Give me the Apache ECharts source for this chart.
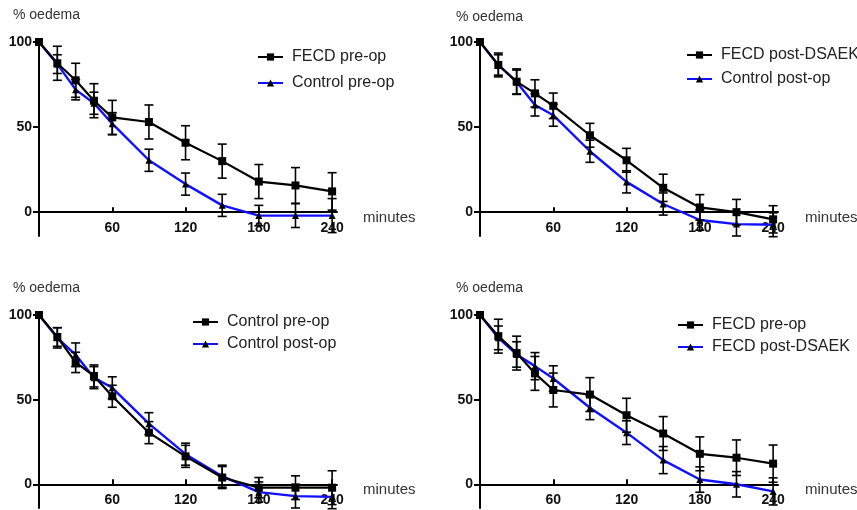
<!DOCTYPE html>
<html><head><meta charset="utf-8">
<script src="https://cdn.jsdelivr.net/npm/echarts@6/dist/echarts.min.js"></script>
<style>html,body{margin:0;padding:0;background:#fff}#c{width:857px;height:510px}</style>
</head><body><div id="c"></div>
<script>
// ---- data ----
const minutes = [0, 15, 30, 45, 60, 90, 120, 150, 180, 210, 240];
const xTickValues = [60, 120, 180, 240];
const yTickValues = [0, 50, 100];
const fecdPre        = [100, 87.5, 77.5, 65.5, 55.7, 53, 40.8, 30, 18, 15.7, 12.2];
const fecdPreErr     = [0, 10, 10, 10, 10, 10, 10, 10, 10, 10.5, 11];
const controlPre     = [100, 87, 72, 64, 52, 30.5, 16.5, 4, -2, -2, -2];
const controlPreErr  = [0, 5.5, 6, 6.5, 6.5, 6.5, 6.5, 6.5, 6, 7, 10];
const fecdPost       = [100, 86.5, 76.7, 69.8, 62.5, 45.2, 30.5, 14.3, 2.8, 0, -4.2];
const fecdPostErr    = [0, 7, 7.5, 8, 7.5, 7, 7, 8, 7.5, 7.5, 8];
const controlPost    = [100, 86.5, 76.5, 63, 57, 35.8, 17.8, 4.8, -4.6, -7, -7.4];
const controlPostErr = [0, 6, 7, 6.5, 6.5, 6.5, 6.5, 6.5, 6, 7, 7];
const yTitle = '% oedema';
const xTitle = 'minutes';

// panels: [black series, blue series]
const panels = [
  { black: ['FECD pre-op', fecdPre, fecdPreErr],       blue: ['Control pre-op', controlPre, controlPreErr] },
  { black: ['FECD post-DSAEK', fecdPost, fecdPostErr], blue: ['Control post-op', controlPost, controlPostErr] },
  { black: ['Control pre-op', controlPre, controlPreErr], blue: ['Control post-op', controlPost, controlPostErr] },
  { black: ['FECD pre-op', fecdPre, fecdPreErr],       blue: ['FECD post-DSAEK', fecdPost, fecdPostErr] }
];

// ---- layout ----
const FONT = "'Liberation Sans', Arial, sans-serif";
const grids = [
  { left: 39,  top: 42,  width: 298, height: 194 },
  { left: 480, top: 42,  width: 298, height: 194 },
  { left: 39,  top: 315, width: 298, height: 193 },
  { left: 480, top: 315, width: 298, height: 193 }
];
const legendPos = [
  { left: 257, top: 49,  gap: 10 },
  { left: 686, top: 47,  gap: 8 },
  { left: 192, top: 314, gap: 6 },
  { left: 677, top: 317, gap: 6 }
];
const xLabelMargin = [-15, -15, -15, -15];
const yTitlePos = [[13, 15], [456, 17], [13, 288], [456, 288]];
const xTitlePos = [[363, 218], [805, 218], [363, 490], [805, 490]];

const labelMap = {};
const xAxes = [], yAxes = [], series = [], legends = [], graphics = [];

function errSeries(idx, vals, errs) {
  return {
    type: 'custom', xAxisIndex: idx, yAxisIndex: idx, z: 6, silent: true,
    data: minutes.map((m, i) => [m, vals[i] - errs[i], vals[i] + errs[i]]).filter((d, i) => errs[i] > 0),
    encode: { x: 0, y: [1, 2] },
    renderItem(params, api) {
      const lo = api.coord([api.value(0), api.value(1)]);
      const hi = api.coord([api.value(0), api.value(2)]);
      const w = 4.5;
      const st = { stroke: '#000', lineWidth: 1.6 };
      return { type: 'group', children: [
        { type: 'line', shape: { x1: lo[0], y1: lo[1], x2: hi[0], y2: hi[1] }, style: st },
        { type: 'line', shape: { x1: lo[0] - w, y1: lo[1], x2: lo[0] + w, y2: lo[1] }, style: st },
        { type: 'line', shape: { x1: hi[0] - w, y1: hi[1], x2: hi[0] + w, y2: hi[1] }, style: st }
      ]};
    }
  };
}

panels.forEach((p, i) => {
  xAxes.push({
    type: 'value', gridIndex: i, min: 0, max: 244,
    axisLine: { onZero: true, lineStyle: { color: '#000', width: 2 } },
    axisTick: { customValues: xTickValues, inside: true, length: 5, lineStyle: { color: '#000', width: 2 } },
    axisLabel: { customValues: xTickValues, color: '#111', fontWeight: 'bold', fontSize: 14, fontFamily: FONT, margin: xLabelMargin[i] },
    splitLine: { show: false }
  });
  yAxes.push({
    type: 'value', gridIndex: i, min: -14, max: 100,
    axisLine: { show: true, onZero: false, lineStyle: { color: '#000', width: 2 } },
    axisTick: { customValues: yTickValues, length: 6, lineStyle: { color: '#000', width: 2 } },
    axisLabel: { customValues: yTickValues, color: '#111', fontWeight: 'bold', fontSize: 14, fontFamily: FONT, margin: 7 },
    splitLine: { show: false }
  });
  const idBlack = 'p' + i + 'k', idBlue = 'p' + i + 'b';
  labelMap[idBlack] = p.black[0];
  labelMap[idBlue] = p.blue[0];
  series.push({
    name: idBlue, type: 'line', xAxisIndex: i, yAxisIndex: i, z: 3,
    data: minutes.map((m, j) => [m, p.blue[1][j]]),
    symbol: 'triangle', symbolSize: 7, showAllSymbol: true,
    lineStyle: { color: '#1010ff', width: 2.4 }, itemStyle: { color: '#000' }
  });
  series.push({
    name: idBlack, type: 'line', xAxisIndex: i, yAxisIndex: i, z: 4,
    data: minutes.map((m, j) => [m, p.black[1][j]]),
    symbol: 'rect', symbolSize: 8, showAllSymbol: true,
    lineStyle: { color: '#000', width: 2.2 }, itemStyle: { color: '#000' }
  });
  series.push(errSeries(i, p.blue[1], p.blue[2]));
  series.push(errSeries(i, p.black[1], p.black[2]));
  const lp = legendPos[i];
  legends.push({
    data: [idBlack, idBlue], orient: 'vertical', left: lp.left, top: lp.top, itemGap: lp.gap,
    itemWidth: 25, itemHeight: 9, selectedMode: false, padding: 0,
    formatter: n => labelMap[n],
    textStyle: { fontSize: 16, color: '#222', fontFamily: FONT, padding: [0, 0, 0, 4] }
  });
  graphics.push({ type: 'text', x: yTitlePos[i][0], y: yTitlePos[i][1],
    style: { text: yTitle, font: '14px ' + FONT, fill: '#333', verticalAlign: 'middle' } });
  graphics.push({ type: 'text', x: xTitlePos[i][0], y: xTitlePos[i][1],
    style: { text: xTitle, font: '15px ' + FONT, fill: '#333', verticalAlign: 'middle' } });
});

const chart = echarts.init(document.getElementById('c'), null, { renderer: 'canvas' });
chart.setOption({
  animation: false,
  backgroundColor: '#fff',
  grid: grids,
  xAxis: xAxes,
  yAxis: yAxes,
  legend: legends,
  series: series,
  graphic: graphics
});
</script></body></html>
